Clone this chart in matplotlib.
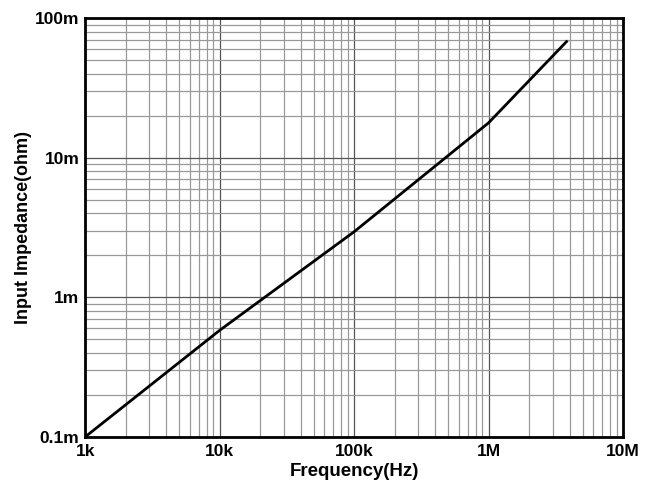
import numpy as np
import matplotlib.pyplot as plt
from matplotlib.ticker import FixedLocator, LogLocator, NullFormatter

# curve
freq = [1e3, 1e4, 1e5, 1e6, 3.8e6]
impedance = [0.1e-3, 0.58e-3, 2.95e-3, 17.8e-3, 68e-3]

x_ticks = [1e3, 1e4, 1e5, 1e6, 1e7]
x_labels = ['1k', '10k', '100k', '1M', '10M']
y_ticks = [1e-4, 1e-3, 1e-2, 1e-1]
y_labels = ['0.1m', '1m', '10m', '100m']

plt.rcParams['font.family'] = ['Liberation Sans', 'DejaVu Sans']

fig = plt.figure(figsize=(6.45, 4.92), dpi=100)
ax = fig.add_axes([0.132, 0.112, 0.834, 0.851])

ax.plot(freq, impedance, color='black', lw=2)
ax.set_xscale('log')
ax.set_yscale('log')
ax.set_xlim(1e3, 1e7)
ax.set_ylim(1e-4, 1e-1)

ax.xaxis.set_major_locator(FixedLocator(x_ticks))
ax.set_xticklabels(x_labels, fontweight='bold', fontsize=12.5)
ax.yaxis.set_major_locator(FixedLocator(y_ticks))
ax.set_yticklabels(y_labels, fontweight='bold', fontsize=12.5)
ax.xaxis.set_minor_locator(LogLocator(base=10, subs=np.arange(2, 10)))
ax.yaxis.set_minor_locator(LogLocator(base=10, subs=np.arange(2, 10)))
ax.xaxis.set_minor_formatter(NullFormatter())
ax.yaxis.set_minor_formatter(NullFormatter())
ax.tick_params(axis='x', which='both', length=0, pad=5)
ax.tick_params(axis='y', which='both', length=0, pad=4)

ax.grid(which='major', color='#555555', lw=0.9)
ax.grid(which='minor', color='#999999', lw=0.9)

for s in ax.spines.values():
    s.set_linewidth(2)

ax.set_xlabel('Frequency(Hz)', fontweight='bold', fontsize=13.5, labelpad=3)
ax.set_ylabel('Input Impedance(ohm)', fontweight='bold', fontsize=13, labelpad=2)

plt.savefig('out.png', dpi=100)
